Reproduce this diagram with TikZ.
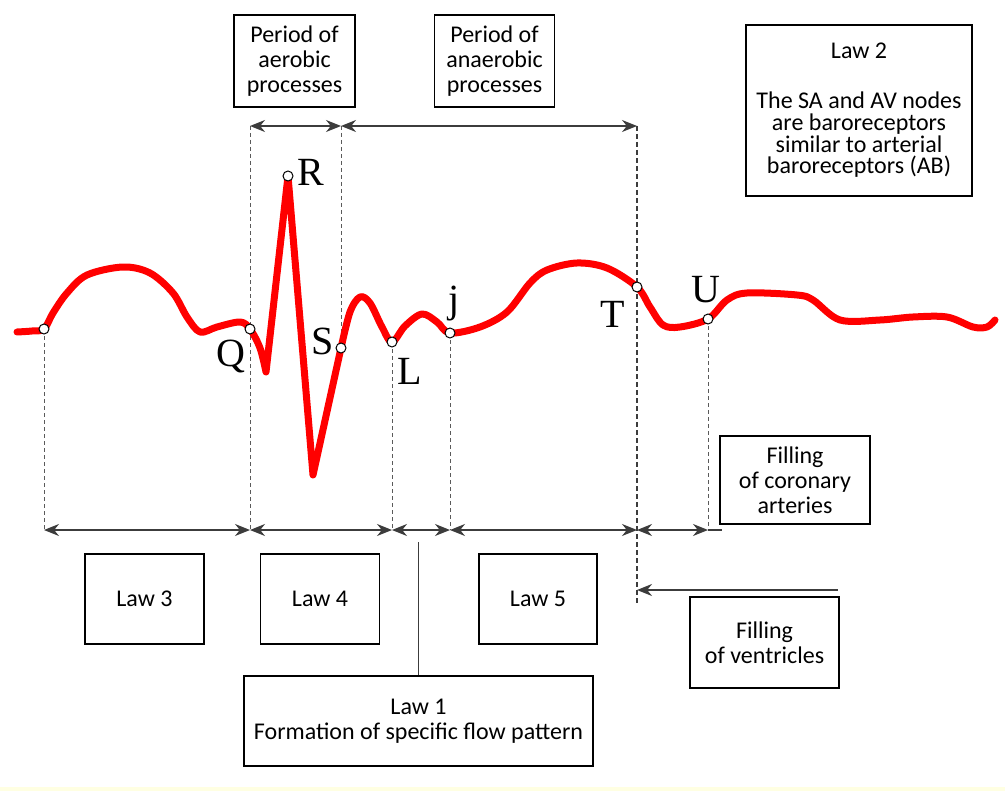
\documentclass[tikz,border=0pt]{standalone}
\usepackage{fontspec}
\setmainfont{Carlito}
\newfontfamily\ecgfont{Liberation Serif}
\usetikzlibrary{arrows.meta, positioning}
\definecolor{ink}{HTML}{000000}
\definecolor{ecgred}{HTML}{FF0000}
\definecolor{guidegrey}{HTML}{5A5A5A}
\definecolor{linegrey}{HTML}{3C3C3C}
\definecolor{strip}{HTML}{FFFFE2}
\tikzset{
  box/.style={draw=ink, fill=white, line width=0.75pt, align=center, inner sep=0pt,
              font=\fontsize{12}{12.5}\selectfont, text=ink},
  lbl/.style={anchor=base, inner sep=0pt, font=\fontsize{20}{20}\selectfont\ecgfont, text=ink},
  dot/.style={circle, draw=ink, fill=white, line width=0.5pt, minimum size=5pt, inner sep=0pt},
  guide/.style={draw=guidegrey, line width=0.5pt, dash pattern=on 2pt off 1.5pt},
  tguide/.style={draw=linegrey, line width=1pt, dash pattern=on 2.5pt off 1.5pt},
  span/.style={{Stealth[length=7.5pt, width=6pt]}-{Stealth[length=7.5pt, width=6pt]},
               draw=linegrey, line width=0.7pt},
  fl/.style={-{Stealth[length=7.5pt, width=6pt]}, draw=linegrey, line width=1pt},
  ecg/.style={draw=ecgred, line width=3.5pt, line join=round, line cap=round},
}

\begin{document}
\begin{tikzpicture}[x=0.5pt, y=-0.5pt]
  \useasboundingbox (0,0) rectangle (1005,791);
  \fill[strip] (0,787) rectangle (1005,791);

  % points on the trace
  \coordinate (p) at (44,329);
  \coordinate (q) at (250,329);
  \coordinate (r) at (288,176);
  \coordinate (s) at (341,348);
  \coordinate (l) at (392,342);
  \coordinate (j) at (450,333);
  \coordinate (t) at (637,287);
  \coordinate (u) at (708,319);

  % ends of the time spans
  \coordinate (t1) at (250,126);
  \coordinate (t2) at (341,126);
  \coordinate (t3) at (637,126);
  \coordinate (b1) at (44,530);
  \coordinate (b2) at (250,530);
  \coordinate (b3) at (392,530);
  \coordinate (b4) at (450,530);
  \coordinate (b5) at (637,530);
  \coordinate (b6) at (708,530);
  \coordinate (b7) at (722,530);
  \coordinate (tend) at (637,605);

  \draw[guide] (p) -- (b1);
  \draw[guide] (t1) -- (b2);
  \draw[guide] (t2) -- (s);
  \draw[guide] (l) -- (b3);
  \draw[guide] (j) -- (b4);
  \draw[guide] (u) -- (b6);
  \draw[tguide] (t3) -- (tend);

  \draw[ecg] plot[smooth, tension=0.55] coordinates {(17,332) (32,331) (44,329) (53,313)
      (67,293) (87,275) (123,267) (150,273) (173,293) (187,317) (200,332) (217,327)
      (240,322) (250,329) (260,348) (266,372)}
    -- (r) -- (313,475) -- (s)
    -- plot[smooth, tension=0.55] coordinates {(341,348) (350,312) (360,297) (370,303)
      (382,327) (392,342) (405,326) (422,314) (437,322) (450,333) (480,327) (507,312)
      (530,283) (547,270) (577,263) (607,268) (637,287) (650,307) (663,325) (680,327)
      (708,319) (727,300) (747,293) (797,295) (813,300) (840,320) (880,320) (913,317)
      (947,317) (973,327) (987,327) (995,320)};

  \foreach \pt in {p,q,r,s,l,j,t,u}
    \node[dot] (d\pt) at (\pt) {};

  \node[lbl] (lq) at (231,366) {Q};
  \node[lbl] (lr) at (311,185) {R};
  \node[lbl] (ls) at (323,354) {S};
  \node[lbl] (ll) at (410,384) {L};
  \node[lbl] (lj) at (454,312) {j};
  \node[lbl] (lt) at (613,327) {T};
  \node[lbl] (lu) at (706,302) {U};

  \draw[span] (t1) -- (t2);
  \draw[span] (t2) -- (t3);
  \draw[span] (b1) -- (b2);
  \draw[span] (b2) -- (b3);
  \draw[span] (b3) -- (b4);
  \draw[span] (b4) -- (b5);
  \draw[span] (b5) -- (b6);
  \draw[draw=linegrey, line width=0.7pt] (b6) -- (b7);

  \node[box, minimum width=60.5pt, minimum height=46pt] (aer) at (294.5,61)
    {Period of\\aerobic\\processes};
  \node[box, minimum width=60pt, minimum height=46pt, right=39pt of aer] (anaer)
    {Period of\\anaerobic\\processes};
  \node[box, minimum width=113pt, minimum height=85.5pt, font=\fontsize{12}{10.9}\selectfont]
    (law2) at (859,110.5)
    {Law 2\\[14pt]The SA and AV nodes\\are baroreceptors\\similar to arterial\\baroreceptors (AB)};

  \node[box, minimum width=59.5pt, minimum height=45pt] (law3) at (144.5,599) {Law 3};
  \node[box, minimum width=59.5pt, minimum height=45pt, right=27.5pt of law3] (law4) {Law 4};
  \node[box, minimum width=59pt, minimum height=45pt, right=49pt of law4] (law5) {Law 5};
  \node[box, minimum width=174.5pt, minimum height=45pt] (law1) at (418.5,721)
    {Law 1\\Formation of specific flow pattern};
  \node[box, minimum width=75pt, minimum height=44pt] (coron) at (795,480)
    {Filling\\of coronary\\arteries};
  \node[box, minimum width=74.5pt, minimum height=45.5pt] (ventr) at (764.5,642.5)
    {Filling\\of ventricles};

  \coordinate (stem) at (418.5,542);
  \draw[draw=linegrey, line width=0.8pt] (stem) -- (law1.north);
  \coordinate (vin) at (838,590);
  \coordinate (vout) at (637,590);
  \draw[fl] (vin) -- (vout);
\end{tikzpicture}
\end{document}
